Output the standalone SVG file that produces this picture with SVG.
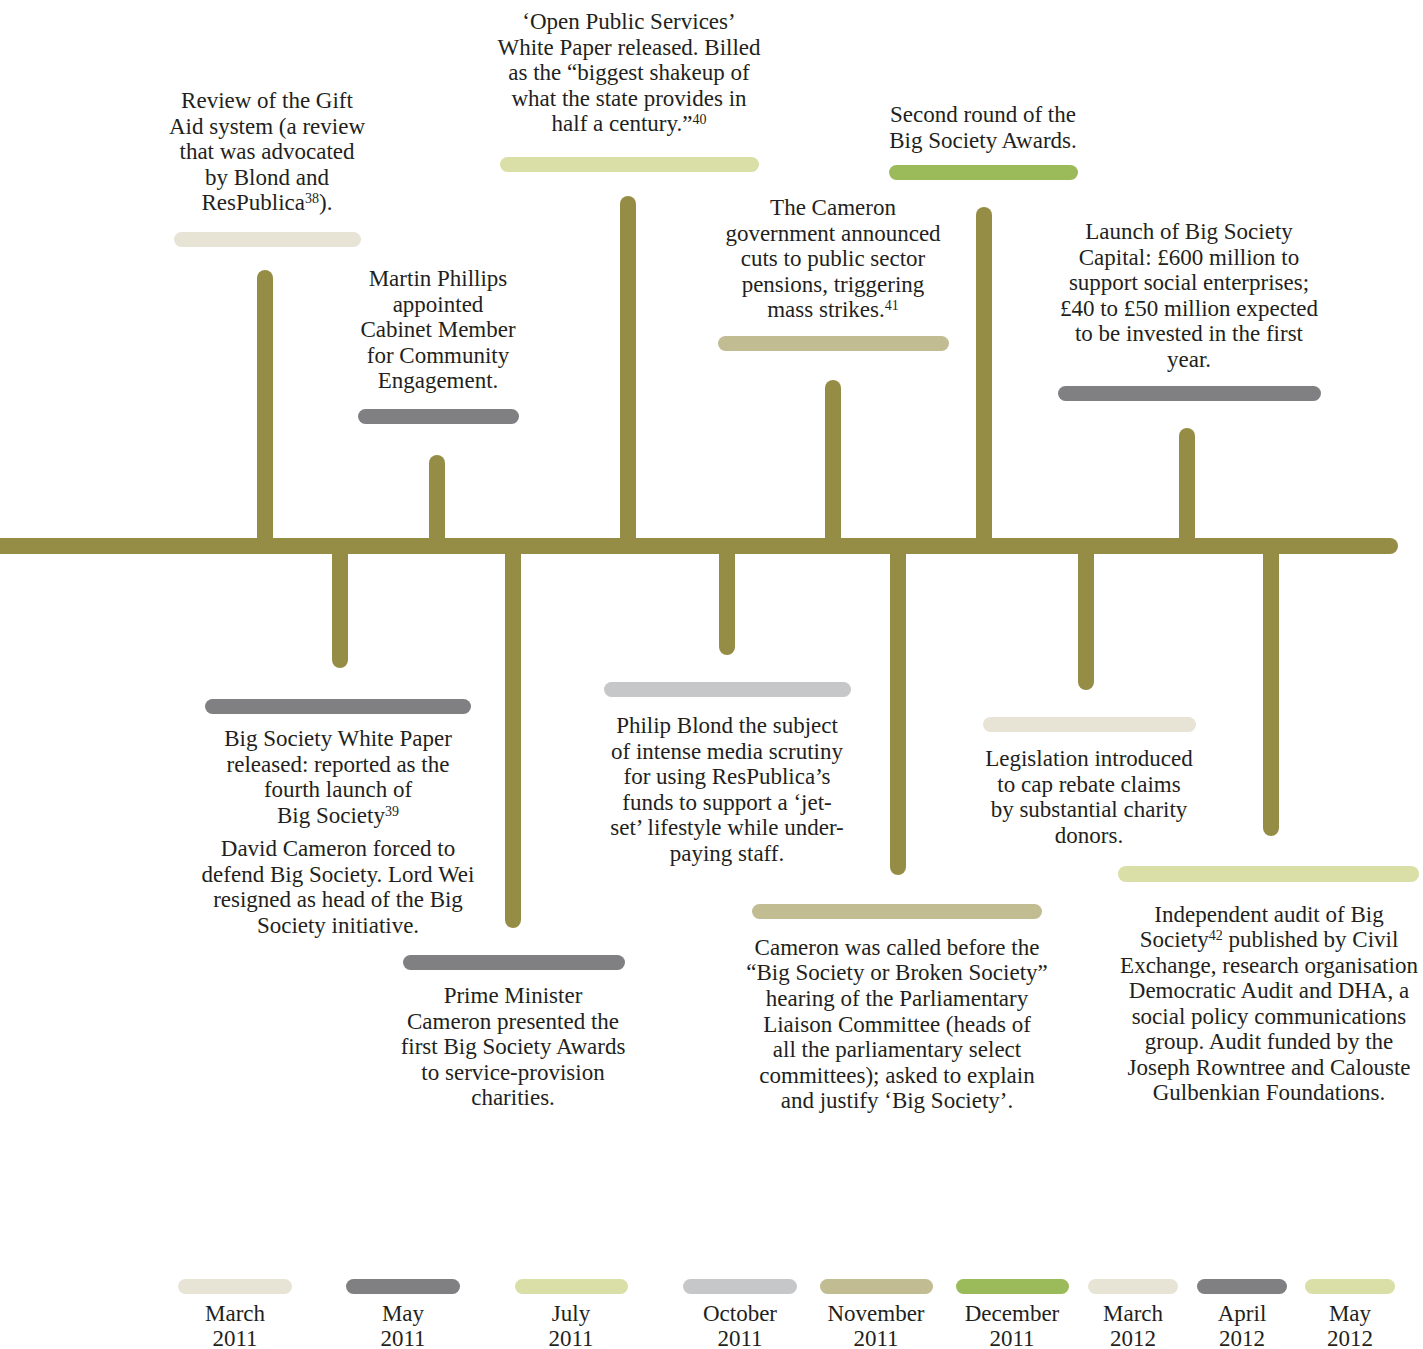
<svg xmlns="http://www.w3.org/2000/svg" width="1423" height="1349" viewBox="0 0 1423 1349">
<style>
text{font-family:"Liberation Serif","Times New Roman",serif;font-size:23px;fill:#231f20;text-anchor:middle}
.sup{font-size:14px}
.stem{stroke:#958d45;stroke-width:16;stroke-linecap:round;fill:none}
.c1{fill:#e7e4d6}.c2{fill:#808083}.c3{fill:#d9dfa6}.c4{fill:#c6c7c9}.c5{fill:#c2bc93}.c6{fill:#9bbb5a}
</style>
<rect width="1423" height="1349" fill="#ffffff"/>
<g id="connectors">
<line class="stem" x1="-20" y1="546" x2="1390" y2="546"/>
<line class="stem" x1="265" y1="278" x2="265" y2="546"/>
<line class="stem" x1="437" y1="463" x2="437" y2="546"/>
<line class="stem" x1="628" y1="204" x2="628" y2="546"/>
<line class="stem" x1="833" y1="388" x2="833" y2="546"/>
<line class="stem" x1="984" y1="215" x2="984" y2="546"/>
<line class="stem" x1="1187" y1="436" x2="1187" y2="546"/>
<line class="stem" x1="340" y1="546" x2="340" y2="660"/>
<line class="stem" x1="513" y1="546" x2="513" y2="920"/>
<line class="stem" x1="727" y1="546" x2="727" y2="647"/>
<line class="stem" x1="898" y1="546" x2="898" y2="867"/>
<line class="stem" x1="1086" y1="546" x2="1086" y2="682"/>
<line class="stem" x1="1271" y1="546" x2="1271" y2="828"/>
</g>
<g id="n1">
<rect class="c1" x="174" y="232" width="187" height="15" rx="7.5"/>
<text x="267" y="108">Review of the Gift</text>
<text x="267" y="133.5">Aid system (a review</text>
<text x="267" y="159">that was advocated</text>
<text x="267" y="184.5">by Blond and</text>
<text x="267" y="210">ResPublica<tspan class="sup" dy="-7">38</tspan><tspan dy="7">).</tspan></text>
</g>
<g id="n2">
<rect class="c2" x="358" y="409" width="161" height="15" rx="7.5"/>
<text x="438" y="286">Martin Phillips</text>
<text x="438" y="311.5">appointed</text>
<text x="438" y="337">Cabinet Member</text>
<text x="438" y="362.5">for Community</text>
<text x="438" y="388">Engagement.</text>
</g>
<g id="n3">
<rect class="c3" x="500" y="157" width="259" height="15" rx="7.5"/>
<text x="629" y="29">‘Open Public Services’</text>
<text x="629" y="55">White Paper released. Billed</text>
<text x="629" y="80">as the “biggest shakeup of</text>
<text x="629" y="106">what the state provides in</text>
<text x="629" y="131">half a century.”<tspan class="sup" dy="-7">40</tspan></text>
</g>
<g id="n4">
<rect class="c5" x="718" y="336" width="231" height="15" rx="7.5"/>
<text x="833" y="215">The Cameron</text>
<text x="833" y="240.5">government announced</text>
<text x="833" y="266">cuts to public sector</text>
<text x="833" y="291.5">pensions, triggering</text>
<text x="833" y="317">mass strikes.<tspan class="sup" dy="-7">41</tspan></text>
</g>
<g id="n5">
<rect class="c6" x="889" y="165" width="189" height="15" rx="7.5"/>
<text x="983" y="122">Second round of the</text>
<text x="983" y="148">Big Society Awards.</text>
</g>
<g id="n6">
<rect class="c2" x="1058" y="386" width="263" height="15" rx="7.5"/>
<text x="1189" y="239">Launch of Big Society</text>
<text x="1189" y="265">Capital: £600 million to</text>
<text x="1189" y="290">support social enterprises;</text>
<text x="1189" y="316">£40 to £50 million expected</text>
<text x="1189" y="341">to be invested in the first</text>
<text x="1189" y="367">year.</text>
</g>
<g id="n7">
<rect class="c2" x="205" y="699" width="266" height="15" rx="7.5"/>
<text x="338" y="746">Big Society White Paper</text>
<text x="338" y="772">released: reported as the</text>
<text x="338" y="797">fourth launch of</text>
<text x="338" y="823">Big Society<tspan class="sup" dy="-7">39</tspan></text>
<text x="338" y="856">David Cameron forced to</text>
<text x="338" y="882">defend Big Society. Lord Wei</text>
<text x="338" y="907">resigned as head of the Big</text>
<text x="338" y="933">Society initiative.</text>
</g>
<g id="n8">
<rect class="c2" x="403" y="955" width="222" height="15" rx="7.5"/>
<text x="513" y="1003">Prime Minister</text>
<text x="513" y="1029">Cameron presented the</text>
<text x="513" y="1054">first Big Society Awards</text>
<text x="513" y="1080">to service-provision</text>
<text x="513" y="1105">charities.</text>
</g>
<g id="n9">
<rect class="c4" x="604" y="682" width="247" height="15" rx="7.5"/>
<text x="727" y="733">Philip Blond the subject</text>
<text x="727" y="759">of intense media scrutiny</text>
<text x="727" y="784">for using ResPublica’s</text>
<text x="727" y="810">funds to support a ‘jet-</text>
<text x="727" y="835">set’ lifestyle while under-</text>
<text x="727" y="861">paying staff.</text>
</g>
<g id="n10">
<rect class="c5" x="752" y="904" width="290" height="15" rx="7.5"/>
<text x="897" y="955">Cameron was called before the</text>
<text x="897" y="980">“Big Society or Broken Society”</text>
<text x="897" y="1006">hearing of the Parliamentary</text>
<text x="897" y="1032">Liaison Committee (heads of</text>
<text x="897" y="1057">all the parliamentary select</text>
<text x="897" y="1083">committees); asked to explain</text>
<text x="897" y="1108">and justify ‘Big Society’.</text>
</g>
<g id="n11">
<rect class="c1" x="983" y="717" width="213" height="15" rx="7.5"/>
<text x="1089" y="766">Legislation introduced</text>
<text x="1089" y="792">to cap rebate claims</text>
<text x="1089" y="817">by substantial charity</text>
<text x="1089" y="843">donors.</text>
</g>
<g id="n12">
<rect class="c3" x="1118" y="866" width="301" height="16" rx="8"/>
<text x="1269" y="922">Independent audit of Big</text>
<text x="1269" y="947">Society<tspan class="sup" dy="-7">42</tspan><tspan dy="7"> published by Civil</tspan></text>
<text x="1269" y="973">Exchange, research organisation</text>
<text x="1269" y="998">Democratic Audit and DHA, a</text>
<text x="1269" y="1024">social policy communications</text>
<text x="1269" y="1049">group. Audit funded by the</text>
<text x="1269" y="1075">Joseph Rowntree and Calouste</text>
<text x="1269" y="1100">Gulbenkian Foundations.</text>
</g>
<g id="legend">
<g id="l1"><rect class="c1" x="178" y="1279" width="114" height="15" rx="7.5"/><text x="235" y="1321">March</text><text x="235" y="1346">2011</text></g>
<g id="l2"><rect class="c2" x="346" y="1279" width="114" height="15" rx="7.5"/><text x="403" y="1321">May</text><text x="403" y="1346">2011</text></g>
<g id="l3"><rect class="c3" x="515" y="1279" width="113" height="15" rx="7.5"/><text x="571" y="1321">July</text><text x="571" y="1346">2011</text></g>
<g id="l4"><rect class="c4" x="683" y="1279" width="114" height="15" rx="7.5"/><text x="740" y="1321">October</text><text x="740" y="1346">2011</text></g>
<g id="l5"><rect class="c5" x="820" y="1279" width="113" height="15" rx="7.5"/><text x="876" y="1321">November</text><text x="876" y="1346">2011</text></g>
<g id="l6"><rect class="c6" x="956" y="1279" width="113" height="15" rx="7.5"/><text x="1012" y="1321">December</text><text x="1012" y="1346">2011</text></g>
<g id="l7"><rect class="c1" x="1088" y="1279" width="90" height="15" rx="7.5"/><text x="1133" y="1321">March</text><text x="1133" y="1346">2012</text></g>
<g id="l8"><rect class="c2" x="1197" y="1279" width="90" height="15" rx="7.5"/><text x="1242" y="1321">April</text><text x="1242" y="1346">2012</text></g>
<g id="l9"><rect class="c3" x="1305" y="1279" width="90" height="15" rx="7.5"/><text x="1350" y="1321">May</text><text x="1350" y="1346">2012</text></g>
</g>
</svg>
